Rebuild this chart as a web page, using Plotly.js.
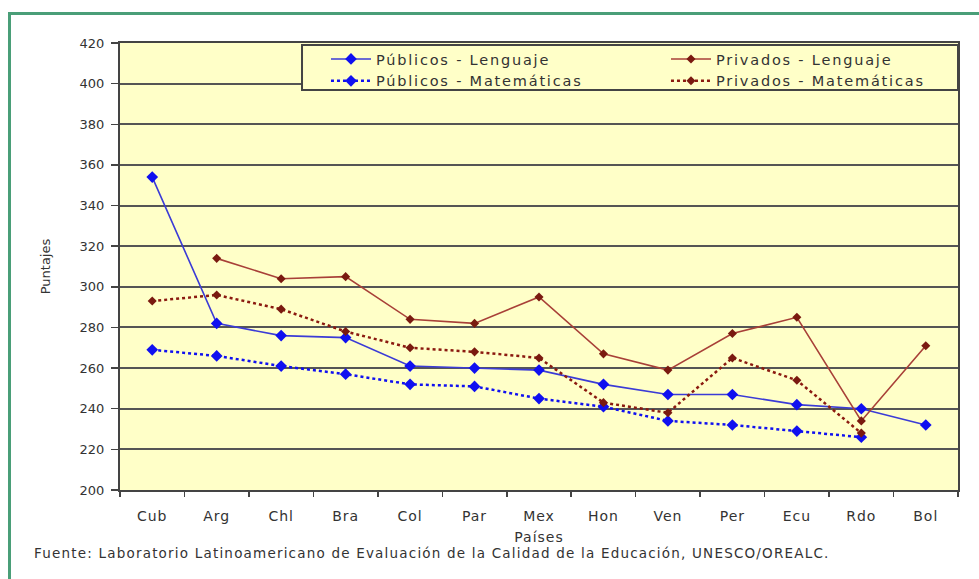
<!DOCTYPE html>
<html>
<head>
<meta charset="utf-8">
<script src="https://cdn.plot.ly/plotly-3.0.1.min.js"></script>
<style>
html,body{margin:0;padding:0;background:#fff;overflow:hidden;}
#chart{width:979px;height:579px;}
#frame{position:absolute;left:8px;top:12px;width:990px;height:600px;border-left:3px solid #4a9e78;border-top:3px solid #4a9e78;pointer-events:none;}
text{letter-spacing:1px;}
.legendtext{letter-spacing:1.8px !important;}
.annotation-text{letter-spacing:1.2px !important;}
.ytitle, .ytick text{letter-spacing:0px !important;}
</style>
</head>
<body>
<div id="chart"></div>
<div id="frame"></div>
<script>
const paises = ["Cub","Arg","Chl","Bra","Col","Par","Mex","Hon","Ven","Per","Ecu","Rdo","Bol"];
const publicosLenguaje = [354, 282, 276, 275, 261, 260, 259, 252, 247, 247, 242, 240, 232];
const privadosLenguaje = [null, 314, 304, 305, 284, 282, 295, 267, 259, 277, 285, 234, 271];
const publicosMatematicas = [269, 266, 261, 257, 252, 251, 245, 241, 234, 232, 229, 226, null];
const privadosMatematicas = [293, 296, 289, 278, 270, 268, 265, 243, 238, 265, 254, 228, null];

const blue = "#3b3bd6", blueMk = "#1010f0", brown = "#a84038", darkRed = "#8b1a10", brownMk = "#7a1a10";
const FONT = "DejaVu Sans, Verdana, sans-serif";

const traces = [
  {name:"Públicos - Lenguaje", x:paises, y:publicosLenguaje, type:"scatter", mode:"lines+markers",
   line:{color:blue, width:1.6}, marker:{symbol:"diamond", size:9, color:blueMk}},
  {name:"Privados - Lenguaje", x:paises, y:privadosLenguaje, type:"scatter", mode:"lines+markers",
   line:{color:brown, width:1.6}, marker:{symbol:"diamond", size:7, color:brownMk}},
  {name:"Públicos - Matemáticas", x:paises, y:publicosMatematicas, type:"scatter", mode:"lines+markers",
   line:{color:blueMk, width:2.5, dash:"dot"}, marker:{symbol:"diamond", size:9, color:blueMk}},
  {name:"Privados - Matemáticas", x:paises, y:privadosMatematicas, type:"scatter", mode:"lines+markers",
   line:{color:darkRed, width:2.5, dash:"dot"}, marker:{symbol:"diamond", size:7, color:brownMk}}
];

const layout = {
  width:979, height:579,
  margin:{l:120, r:21, t:43, b:89, autoexpand:false},
  paper_bgcolor:"rgba(0,0,0,0)",
  plot_bgcolor:"#ffffc8",
  font:{family:FONT, size:13, color:"#333"},
  showlegend:true,
  legend:{orientation:"h", x:0.2458, xanchor:"left", y:1.0, yanchor:"top",
    bgcolor:"rgba(0,0,0,0)", borderwidth:0,
    font:{family:FONT, size:14.5, color:"#333"}, entrywidth:285, tracegroupgap:0, itemwidth:40},
  shapes:[{type:"rect", xref:"paper", yref:"paper", x0:0.2172, x1:1.0, y0:0.8949, y1:0.9955,
    fillcolor:"#ffffc8", line:{color:"#444", width:2}, layer:"above"}],
  xaxis:{type:"category", showline:true, linecolor:"#444", linewidth:2, mirror:true,
    ticks:"outside", tickson:"boundaries", ticklen:5, tickcolor:"#444", tickwidth:1.5,
    ticklabelstandoff:12, tickfont:{size:14},
    showgrid:false, range:[-0.5,12.5], fixedrange:true,
    title:{text:"Países", font:{size:14, color:"#333"}, standoff:9}},
  yaxis:{range:[200,420], dtick:20, tick0:200, showline:true, linecolor:"#444", linewidth:2, mirror:true,
    ticks:"outside", ticklen:7, tickcolor:"#444", tickwidth:1.5, ticklabelstandoff:4,
    showgrid:true, gridcolor:"#555", gridwidth:2, zeroline:false, fixedrange:true,
    title:{text:"Puntajes", font:{size:13, color:"#333"}, standoff:26}},
  annotations:[{text:"Fuente: Laboratorio Latinoamericano de Evaluación de la Calidad de la Educación, UNESCO/OREALC.",
    xref:"paper", yref:"paper", x:-0.1047, y:-0.14, xanchor:"left", yanchor:"middle", showarrow:false,
    font:{size:13.5, color:"#333"}}]
};

Plotly.newPlot("chart", traces, layout, {displayModeBar:false, staticPlot:true});
</script>
</body>
</html>
